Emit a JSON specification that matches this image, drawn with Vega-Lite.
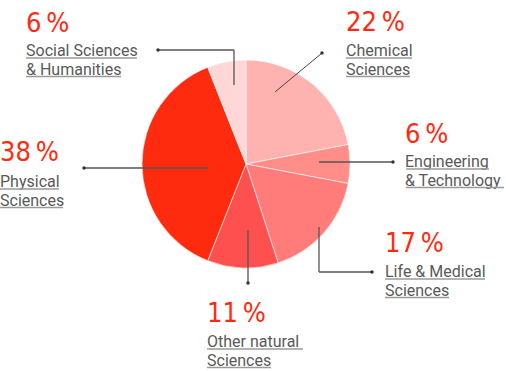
{
  "$schema": "https://vega.github.io/schema/vega-lite/v6.json",
  "width": 506,
  "height": 371,
  "autosize": "none",
  "padding": 0,
  "background": "white",
  "config": {
    "view": {"stroke": null},
    "axis": {"disable": true},
    "legend": {"disable": true},
    "style": {
      "pct": {"font": "'DejaVu Sans Condensed', 'Liberation Sans Narrow', 'DejaVu Sans', sans-serif", "fontSize": 27, "align": "left", "baseline": "alphabetic"},
      "lbl": {"font": "Roboto", "fontSize": 16, "align": "left", "baseline": "alphabetic", "lineBreak": "\n", "lineHeight": 18.5}
    }
  },
  "data": {
    "values": [
      {"category": "Chemical Sciences", "pct": 22, "label": "Chemical\nSciences"},
      {"category": "Engineering & Technology", "pct": 6, "label": "Engineering\n\u00a0& Technology"},
      {"category": "Life & Medical Sciences", "pct": 17, "label": "Life & Medical\nSciences"},
      {"category": "Other natural Sciences", "pct": 11, "label": "Other natural\u00a0\nSciences"},
      {"category": "Physical Sciences", "pct": 38, "label": "Physical\nSciences"},
      {"category": "Social Sciences & Humanities", "pct": 6, "label": "Social Sciences\n& Humanities"}
    ]
  },
  "transform": [{"calculate": "datum.pct + '\u2009%'", "as": "pctText"}],
  "layer": [
    {
      "mark": {"type": "arc", "radius": 104, "stroke": "#ffffff", "strokeWidth": 0.6},
      "encoding": {
        "x": {"datum": 246, "type": "quantitative", "scale": {"domain": [0, 506], "nice": false, "zero": false}, "axis": null},
        "y": {"datum": 164, "type": "quantitative", "scale": {"domain": [0, 371], "nice": false, "zero": false, "reverse": true}, "axis": null},
        "theta": {"field": "pct", "type": "quantitative", "stack": true},
        "color": {
          "field": "category", "type": "nominal", "legend": null,
          "scale": {
            "domain": ["Chemical Sciences", "Engineering & Technology", "Life & Medical Sciences", "Other natural Sciences", "Physical Sciences", "Social Sciences & Humanities"],
            "range": ["#ffb3b0", "#ff8d88", "#ff7c7b", "#ff5050", "#ff2b0f", "#ffd7d6"]
          }
        }
      }
    },
    {
      "transform": [{"filter": "datum.category === 'Chemical Sciences'"}],
      "layer": [
        {"mark": {"type": "rule", "color": "#444444", "strokeWidth": 1}, "encoding": {"x": {"datum": 275}, "y": {"datum": 92}, "x2": {"datum": 322}, "y2": {"datum": 53}}},
        {"mark": {"type": "point", "filled": true, "size": 12, "opacity": 1, "color": "#333333"}, "encoding": {"x": {"datum": 322}, "y": {"datum": 53}}},
        {"mark": {"type": "text", "style": "pct", "color": "#ff2a10"}, "encoding": {"x": {"datum": 346}, "y": {"datum": 31}, "text": {"field": "pctText"}}},
        {"mark": {"type": "text", "style": "lbl", "color": "#595959"}, "encoding": {"x": {"datum": 346}, "y": {"datum": 56}, "text": {"field": "label"}}},
        {"mark": {"type": "rule", "color": "#9a9a9a", "strokeWidth": 1.5}, "encoding": {"x": {"datum": 346}, "x2": {"datum": 412}, "y": {"datum": 58}}},
        {"mark": {"type": "rule", "color": "#9a9a9a", "strokeWidth": 1.5}, "encoding": {"x": {"datum": 346}, "x2": {"datum": 410}, "y": {"datum": 76.5}}}
      ]
    },
    {
      "transform": [{"filter": "datum.category === 'Engineering & Technology'"}],
      "layer": [
        {"mark": {"type": "rule", "color": "#555555", "strokeWidth": 1.3}, "encoding": {"x": {"datum": 319}, "y": {"datum": 162}, "x2": {"datum": 393}, "y2": {"datum": 162}}},
        {"mark": {"type": "point", "filled": true, "size": 12, "opacity": 1, "color": "#333333"}, "encoding": {"x": {"datum": 393}, "y": {"datum": 162}}},
        {"mark": {"type": "text", "style": "pct", "color": "#ff2a10"}, "encoding": {"x": {"datum": 405}, "y": {"datum": 143}, "text": {"field": "pctText"}}},
        {"mark": {"type": "text", "style": "lbl", "color": "#595959"}, "encoding": {"x": {"datum": 405}, "y": {"datum": 167}, "text": {"field": "label"}}},
        {"mark": {"type": "rule", "color": "#9a9a9a", "strokeWidth": 1.5}, "encoding": {"x": {"datum": 406}, "x2": {"datum": 489}, "y": {"datum": 169}}},
        {"mark": {"type": "rule", "color": "#9a9a9a", "strokeWidth": 1.5}, "encoding": {"x": {"datum": 406}, "x2": {"datum": 504}, "y": {"datum": 187.5}}}
      ]
    },
    {
      "transform": [{"filter": "datum.category === 'Life & Medical Sciences'"}],
      "layer": [
        {"mark": {"type": "rule", "color": "#555555", "strokeWidth": 1.3}, "encoding": {"x": {"datum": 319}, "y": {"datum": 227}, "x2": {"datum": 319}, "y2": {"datum": 272}}},
        {"mark": {"type": "rule", "color": "#555555", "strokeWidth": 1.3}, "encoding": {"x": {"datum": 319}, "y": {"datum": 272}, "x2": {"datum": 372}, "y2": {"datum": 272}}},
        {"mark": {"type": "point", "filled": true, "size": 12, "opacity": 1, "color": "#333333"}, "encoding": {"x": {"datum": 372}, "y": {"datum": 272}}},
        {"mark": {"type": "text", "style": "pct", "color": "#ff2a10"}, "encoding": {"x": {"datum": 385}, "y": {"datum": 252}, "text": {"field": "pctText"}}},
        {"mark": {"type": "text", "style": "lbl", "color": "#595959"}, "encoding": {"x": {"datum": 385}, "y": {"datum": 277}, "text": {"field": "label"}}},
        {"mark": {"type": "rule", "color": "#9a9a9a", "strokeWidth": 1.5}, "encoding": {"x": {"datum": 385}, "x2": {"datum": 485}, "y": {"datum": 279}}},
        {"mark": {"type": "rule", "color": "#9a9a9a", "strokeWidth": 1.5}, "encoding": {"x": {"datum": 385}, "x2": {"datum": 449}, "y": {"datum": 297.5}}}
      ]
    },
    {
      "transform": [{"filter": "datum.category === 'Other natural Sciences'"}],
      "layer": [
        {"mark": {"type": "rule", "color": "#555555", "strokeWidth": 1.3}, "encoding": {"x": {"datum": 248}, "y": {"datum": 230}, "x2": {"datum": 248}, "y2": {"datum": 283}}},
        {"mark": {"type": "point", "filled": true, "size": 12, "opacity": 1, "color": "#333333"}, "encoding": {"x": {"datum": 248}, "y": {"datum": 283}}},
        {"mark": {"type": "text", "style": "pct", "color": "#ff2a10"}, "encoding": {"x": {"datum": 207}, "y": {"datum": 322}, "text": {"field": "pctText"}}},
        {"mark": {"type": "text", "style": "lbl", "color": "#595959"}, "encoding": {"x": {"datum": 207}, "y": {"datum": 347}, "text": {"field": "label"}}},
        {"mark": {"type": "rule", "color": "#9a9a9a", "strokeWidth": 1.5}, "encoding": {"x": {"datum": 207}, "x2": {"datum": 303}, "y": {"datum": 349}}},
        {"mark": {"type": "rule", "color": "#9a9a9a", "strokeWidth": 1.5}, "encoding": {"x": {"datum": 207}, "x2": {"datum": 271}, "y": {"datum": 367.5}}}
      ]
    },
    {
      "transform": [{"filter": "datum.category === 'Physical Sciences'"}],
      "layer": [
        {"mark": {"type": "rule", "color": "#555555", "strokeWidth": 1.3}, "encoding": {"x": {"datum": 84}, "y": {"datum": 168}, "x2": {"datum": 208}, "y2": {"datum": 168}}},
        {"mark": {"type": "point", "filled": true, "size": 12, "opacity": 1, "color": "#333333"}, "encoding": {"x": {"datum": 84}, "y": {"datum": 168}}},
        {"mark": {"type": "text", "style": "pct", "color": "#ff2a10"}, "encoding": {"x": {"datum": 0}, "y": {"datum": 161}, "text": {"field": "pctText"}}},
        {"mark": {"type": "text", "style": "lbl", "color": "#595959"}, "encoding": {"x": {"datum": 0}, "y": {"datum": 187}, "text": {"field": "label"}}},
        {"mark": {"type": "rule", "color": "#9a9a9a", "strokeWidth": 1.5}, "encoding": {"x": {"datum": 0}, "x2": {"datum": 59}, "y": {"datum": 189}}},
        {"mark": {"type": "rule", "color": "#9a9a9a", "strokeWidth": 1.5}, "encoding": {"x": {"datum": 0}, "x2": {"datum": 63}, "y": {"datum": 207.5}}}
      ]
    },
    {
      "transform": [{"filter": "datum.category === 'Social Sciences & Humanities'"}],
      "layer": [
        {"mark": {"type": "rule", "color": "#555555", "strokeWidth": 1.3}, "encoding": {"x": {"datum": 158}, "y": {"datum": 50}, "x2": {"datum": 234}, "y2": {"datum": 50}}},
        {"mark": {"type": "rule", "color": "#555555", "strokeWidth": 1.3}, "encoding": {"x": {"datum": 234}, "y": {"datum": 50}, "x2": {"datum": 234}, "y2": {"datum": 85}}},
        {"mark": {"type": "point", "filled": true, "size": 12, "opacity": 1, "color": "#333333"}, "encoding": {"x": {"datum": 158}, "y": {"datum": 50}}},
        {"mark": {"type": "text", "style": "pct", "color": "#ff2a10"}, "encoding": {"x": {"datum": 26}, "y": {"datum": 32}, "text": {"field": "pctText"}}},
        {"mark": {"type": "text", "style": "lbl", "color": "#595959"}, "encoding": {"x": {"datum": 26}, "y": {"datum": 56}, "text": {"field": "label"}}},
        {"mark": {"type": "rule", "color": "#9a9a9a", "strokeWidth": 1.5}, "encoding": {"x": {"datum": 26}, "x2": {"datum": 137}, "y": {"datum": 58}}},
        {"mark": {"type": "rule", "color": "#9a9a9a", "strokeWidth": 1.5}, "encoding": {"x": {"datum": 26}, "x2": {"datum": 121}, "y": {"datum": 76.5}}}
      ]
    }
  ]
}
